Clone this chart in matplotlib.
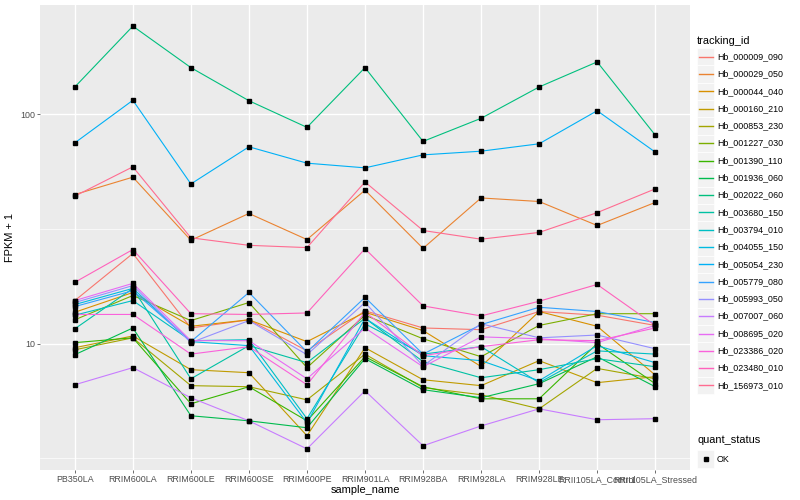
import matplotlib
matplotlib.use("Agg")
import matplotlib.pyplot as plt
from matplotlib.lines import Line2D
from matplotlib.patches import Rectangle
import numpy as np

samples = ["PB350LA", "RRIM600LA", "RRIM600LE", "RRIM600SE", "RRIM600PE",
           "RRIM901LA", "RRIM928BA", "RRIM928LA", "RRIM928LE",
           "RRII105LA_Control", "RRII105LA_Stressed"]

tracking_ids = ["Hb_000009_090", "Hb_000029_050", "Hb_000044_040", "Hb_000160_210",
                "Hb_000853_230", "Hb_001227_030", "Hb_001390_110", "Hb_001936_060",
                "Hb_002022_060", "Hb_003680_150", "Hb_003794_010", "Hb_004055_150",
                "Hb_005054_230", "Hb_005779_080", "Hb_005993_050", "Hb_007007_060",
                "Hb_008695_020", "Hb_023386_020", "Hb_023480_010", "Hb_156973_010"]

colors = ["#F8766D", "#EA8331", "#D89000", "#C09B00", "#A3A500", "#7CAE00", "#39B600",
          "#00BB4E", "#00BF7D", "#00C1A3", "#00BFC4", "#00BAE0", "#00B0F6", "#35A2FF",
          "#9590FF", "#C77CFF", "#E76BF3", "#FA62DB", "#FF62BC", "#FF6C91"]

# FPKM + 1 per gene, one value per sample
hb_000009_090 = [15.4, 24.7, 11.7, 12.7, 9.3, 13.9, 11.7, 11.5, 13.8, 13.3, 12.0]
hb_000029_050 = [44.6, 53.1, 28.2, 36.9, 28.4, 46.6, 26.0, 43.1, 41.6, 32.7, 41.2]
hb_000044_040 = [13.7, 16.7, 11.9, 12.7, 10.2, 13.7, 11.4, 7.95, 13.8, 11.9, 7.3]
hb_000160_210 = [9.6, 10.8, 7.7, 7.47, 3.97, 9.6, 6.96, 6.56, 8.43, 6.76, 7.18]
hb_000853_230 = [9.4, 10.6, 6.56, 6.49, 5.69, 9.0, 6.43, 5.99, 5.2, 7.8, 7.03]
hb_001227_030 = [12.7, 16.2, 12.6, 15.1, 7.86, 13.3, 10.5, 8.77, 12.0, 13.5, 13.5]
hb_001390_110 = [10.1, 10.6, 5.47, 6.49, 4.61, 8.77, 6.49, 5.75, 5.75, 10.0, 6.69]
hb_001936_060 = [8.95, 11.7, 4.85, 4.61, 4.30, 8.6, 6.30, 5.81, 6.69, 8.77, 6.49]
hb_002022_060 = [131.2, 241.5, 159.3, 114.3, 87.5, 159.3, 76.0, 95.8, 131.2, 168.7, 81.0]
hb_003680_150 = [11.6, 17.4, 7.03, 9.8, 8.26, 12.9, 8.35, 7.1, 7.7, 8.6, 7.93]
hb_003794_010 = [13.3, 15.4, 10.3, 10.4, 4.71, 12.2, 9.0, 9.7, 6.76, 9.3, 9.0]
hb_004055_150 = [14.8, 17.4, 10.2, 9.8, 4.52, 12.9, 8.86, 8.43, 6.89, 9.8, 8.26]
hb_005054_230 = [74.9, 114.8, 49.6, 72.0, 61.1, 58.3, 66.4, 68.9, 74.2, 103.4, 68.3]
hb_005779_080 = [14.5, 17.0, 10.2, 16.7, 9.2, 15.9, 9.0, 12.1, 14.4, 13.8, 12.35]
hb_005993_050 = [15.1, 17.9, 10.1, 12.6, 8.95, 15.1, 8.0, 12.2, 10.6, 10.9, 9.5]
hb_007007_060 = [6.62, 7.86, 5.81, 4.61, 3.48, 6.23, 3.59, 4.38, 5.20, 4.66, 4.71]
hb_008695_020 = [15.4, 18.3, 10.3, 10.3, 7.03, 11.7, 7.93, 10.7, 10.5, 10.1, 12.0]
hb_023386_020 = [13.4, 13.4, 9.0, 9.7, 6.62, 13.7, 8.86, 9.7, 10.4, 10.3, 11.7]
hb_023480_010 = [18.5, 25.7, 13.5, 13.4, 13.6, 25.9, 14.6, 13.2, 15.3, 18.1, 12.0]
hb_156973_010 = [43.9, 58.9, 28.9, 26.8, 26.2, 50.6, 31.1, 28.5, 30.5, 37.2, 47.2]

series = [hb_000009_090, hb_000029_050, hb_000044_040, hb_000160_210, hb_000853_230,
          hb_001227_030, hb_001390_110, hb_001936_060, hb_002022_060, hb_003680_150,
          hb_003794_010, hb_004055_150, hb_005054_230, hb_005779_080, hb_005993_050,
          hb_007007_060, hb_008695_020, hb_023386_020, hb_023480_010, hb_156973_010]

quant_status = ["OK"]

FONT = ["Liberation Sans", "DejaVu Sans"]
plt.rcParams["font.family"] = FONT

W, H = 800, 500
fig = plt.figure(figsize=(W / 100, H / 100), dpi=100)
fig.patch.set_facecolor("white")

# panel in pixel coords
pl, pr, pt, pb = 40, 690, 5, 470
ax = fig.add_axes([pl / W, 1 - pb / H, (pr - pl) / W, (pb - pt) / H])
ax.set_facecolor("#EBEBEB")
for s in ax.spines.values():
    s.set_visible(False)

x = np.arange(len(samples))
for vals, col in zip(series, colors):
    ax.plot(x, vals, color=col, lw=0.8, zorder=3)
    ax.plot(x, vals, ls="none", marker="s", ms=2.6, color="black", zorder=4)

ax.set_yscale("log")
allv = np.concatenate([np.asarray(s) for s in series])
lo, hi = np.log10(allv.min()), np.log10(allv.max())
pad = 0.05 * (hi - lo)
ax.set_ylim(10 ** (lo - pad), 10 ** (hi + pad))
ax.set_xlim(-0.6, len(samples) - 1 + 0.6)

ax.yaxis.set_major_locator(matplotlib.ticker.FixedLocator([10, 100]))
ax.yaxis.set_major_formatter(matplotlib.ticker.FixedFormatter(["10", "100"]))
ax.yaxis.set_minor_locator(matplotlib.ticker.FixedLocator([10 ** 0.5, 10 ** 1.5, 10 ** 2.5]))
ax.yaxis.set_minor_formatter(matplotlib.ticker.NullFormatter())
ax.set_xticks(x)
ax.set_xticklabels(samples)

ax.grid(which="major", color="white", lw=1.0, zorder=0)
ax.grid(which="minor", axis="y", color="white", lw=0.5, zorder=0)
ax.set_axisbelow(True)

ax.tick_params(axis="both", which="major", length=2.0, width=0.5, color="#333333",
               labelsize=6.4, labelcolor="#4D4D4D", pad=1.5)
ax.tick_params(axis="y", which="minor", length=0)

ax.set_xlabel("sample_name", fontsize=7.9, color="black", labelpad=1)
ax.set_ylabel("FPKM + 1", fontsize=7.9, color="black", labelpad=4)

# legend (drawn in pixel space on an overlay axes)
lg = fig.add_axes([0, 0, 1, 1], facecolor="none")
lg.set_xlim(0, W)
lg.set_ylim(H, 0)
lg.axis("off")

lx = 697
lg.text(lx, 40.5, "tracking_id", fontsize=7.9, va="center", ha="left", color="black")
row0, step = 56.7, 17.3
for i, (name, col) in enumerate(zip(tracking_ids, colors)):
    yc = row0 + i * step
    lg.add_patch(Rectangle((lx, yc - 8.6), 17.3, 17.3, facecolor="#F2F2F2", edgecolor="white", lw=0.5))
    lg.add_line(Line2D([lx + 1.7, lx + 15.6], [yc, yc], color=col, lw=1.0))
    lg.text(lx + 20, yc, name, fontsize=6.4, va="center", ha="left", color="black")

qy = 440
lg.text(lx, qy, "quant_status", fontsize=7.9, va="center", ha="left", color="black")
for j, name in enumerate(quant_status):
    yc = qy + 19 + j * step
    lg.add_patch(Rectangle((lx, yc - 8.6), 17.3, 17.3, facecolor="#F2F2F2", edgecolor="white", lw=0.5))
    lg.add_line(Line2D([lx + 8.65], [yc], ls="none", marker="s", ms=2.6, color="black"))
    lg.text(lx + 20, yc, name, fontsize=6.4, va="center", ha="left", color="black")

fig.savefig("out.png", dpi=100)
